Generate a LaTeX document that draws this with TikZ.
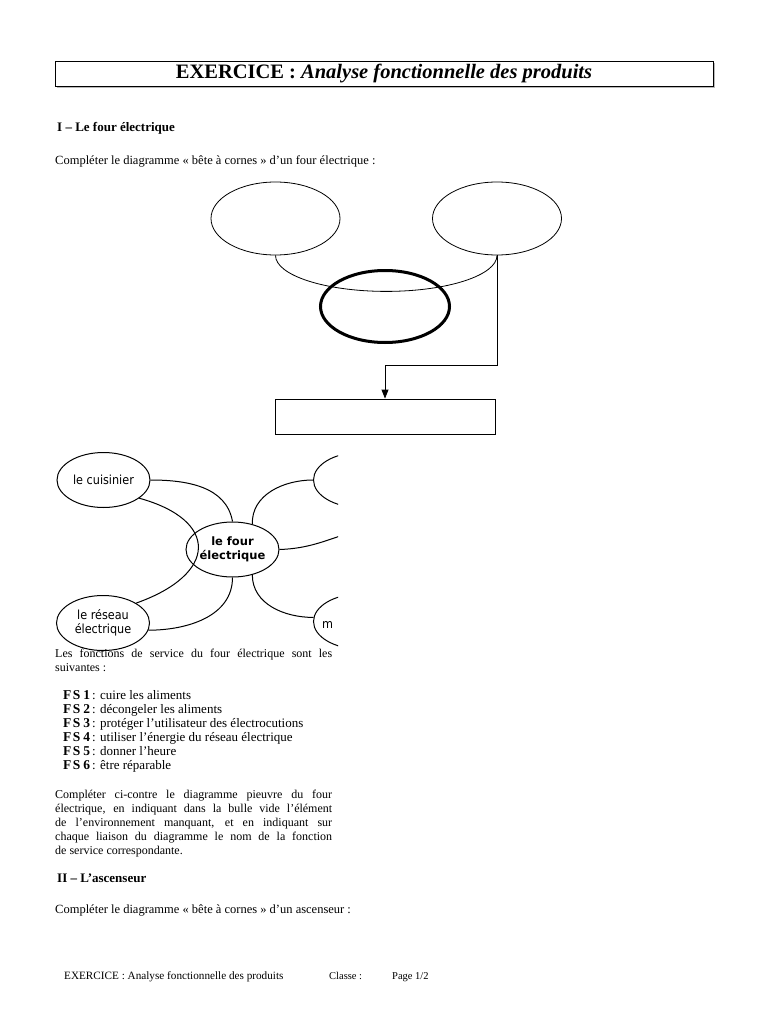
\documentclass[tikz,border=0pt]{standalone}
\usepackage{fontspec}
\setmainfont{Liberation Serif}
\newfontfamily\dvs{DejaVu Sans Condensed}
\newfontfamily\dvb{DejaVu Sans}
\usetikzlibrary{shapes.geometric,arrows.meta}
\newcommand\jline[1]{\hbox to 277pt{#1}}
\newcommand\fsl[2]{\hbox{{\fontsize{13.5}{14}\selectfont\bfseries F\kern1.5pt S\kern3pt#1}\kern2pt: #2}}
\begin{document}
\begin{tikzpicture}[x=1pt,y=1pt,
  txt/.style={inner sep=0pt, anchor=base west, font=\fontsize{12.5}{14}\selectfont},
  par/.style={inner sep=0pt, anchor=base west, font=\fontsize{12}{14}\selectfont},
  head/.style={inner sep=0pt, anchor=base west, font=\fontsize{13}{14}\selectfont\bfseries},
  foot/.style={inner sep=0pt, anchor=base west, font=\fontsize{10.5}{12}\selectfont},
  blob/.style={ellipse, draw, line width=1pt, minimum width=93pt, minimum height=55pt, inner sep=0pt, align=center, font=\dvs\fontsize{12.5}{13.5}\selectfont},
  horn/.style={ellipse, draw, line width=0.8pt, minimum width=129pt, minimum height=73pt, inner sep=0pt},
  link/.style={line width=1pt}]
\useasboundingbox (0,0) rectangle (768,-1024);
\fill[white] (0,0) rectangle (768,-1024);

% title
\fill[gray!55] (57,-63) rectangle (715,-88);
\node[draw, fill=white, line width=0.8pt, minimum width=658pt, minimum height=25pt, inner sep=0pt,
      font=\fontsize{20.5}{22}\selectfont\bfseries] (title) at (384,-73.5)
      {EXERCICE : \textit{Analyse fonctionnelle des produits}};

\node[head] (h1) at (57,-132) {I – Le four électrique};
\node[txt] (t1) at (55,-165) {Compléter le diagramme « bête à cornes » d’un four électrique :};

% bete a cornes
\node[horn] (user) at (275.5,-218.5) {};
\node[horn] (matter) at (497,-218.5) {};
\draw[line width=0.8pt] (user.south) arc[start angle=180, end angle=360, x radius=110.75pt, y radius=36pt];
\node[ellipse, draw, line width=3pt, minimum width=129pt, minimum height=72pt, inner sep=0pt] (prod) at (385,-306.5) {};
\node[draw, line width=0.9pt, minimum width=220pt, minimum height=35pt, inner sep=0pt] (goal) at (385,-416.5) {};
\draw[line width=0.9pt, -{Triangle[length=9pt,width=7pt]}] (matter.south) -- ++(0,-110) -| (goal.north);

% pieuvre
\begin{scope}
\clip (0,-440) rectangle (338,-652);
\node[blob] (cuis) at (103.5,-480) {le cuisinier};
\node[blob, font=\dvb\bfseries\fontsize{11.5}{14}\selectfont] (four) at (232.5,-549.5) {le four\\électrique};
\node[blob] (res) at (103,-623) {le réseau\\électrique};
\node[blob] (tr) at (360,-480) {};
\node[blob] (br) at (360,-621.5) {};
\node[inner sep=0pt, anchor=base west, font=\dvs\fontsize{12.5}{14}\selectfont] (brt) at (322,-628) {m};
\coordinate (mr) at (352,-532);
\draw[link] (cuis.east) to[out=0,in=100] (four.north);
\draw[link] (cuis.-27) .. controls +(80,-22) and +(82,29) .. (res.31);
\draw[link] (four.south) to[out=-90,in=0] (res.-9);
\draw[link] (four.52) to[out=92,in=180] (tr.west);
\draw[link] (four.east) to[out=2,in=198] (mr);
\draw[link] (four.-52) to[out=-90,in=180] (br.175);
\end{scope}

% texts
\node[par] (p1) at (55,-657) {\vtop{\hsize=277pt
  \jline{Les fonctions de service du four électrique sont les}
  \hbox{suivantes :}}};

\node[inner sep=0pt, anchor=base west, font=\fontsize{13}{14}\selectfont] (fs) at (63,-699) {\vtop{
  \fsl{1}{cuire les aliments}
  \fsl{2}{décongeler les aliments}
  \fsl{3}{protéger l’utilisateur des électrocutions}
  \fsl{4}{utiliser l’énergie du réseau électrique}
  \fsl{5}{donner l’heure}
  \fsl{6}{être réparable}}};

\node[par] (p2) at (55,-798) {\vtop{\hsize=277pt
  \jline{Compléter ci-contre le diagramme pieuvre du four}
  \jline{électrique, en indiquant dans la bulle vide l’élément}
  \jline{de l’environnement manquant, et en indiquant sur}
  \jline{chaque liaison du diagramme le nom de la fonction}
  \hbox{de service correspondante.}}};

\node[head] (h2) at (57,-882) {II – L’ascenseur};
\node[txt] (t2) at (55,-913) {Compléter le diagramme « bête à cornes » d’un ascenseur :};

% footer
\node[foot, font=\fontsize{11.2}{12}\selectfont] (f1) at (64,-979) {EXERCICE : Analyse fonctionnelle des produits};
\node[foot] (f2) at (329,-979) {Classe :};
\node[foot] (f3) at (392,-979) {Page 1/2};
\end{tikzpicture}
\end{document}
